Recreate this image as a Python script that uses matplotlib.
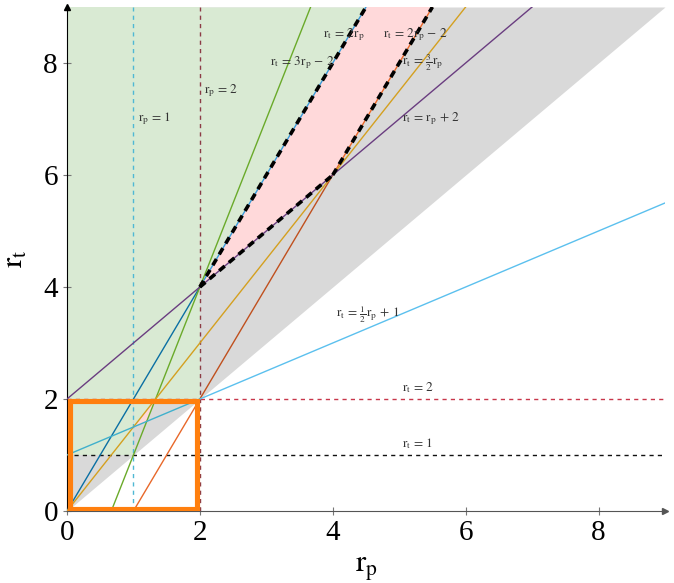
import matplotlib
matplotlib.use("Agg")
import matplotlib.pyplot as plt
import numpy as np

plt.rcParams['font.family'] = ['Liberation Serif', 'DejaVu Serif']
plt.rcParams['mathtext.fontset'] = 'stix'

# axis extent / ticks
x_max = 9
y_max = 9
x_ticks = [0, 2, 4, 6, 8]
y_ticks = [0, 2, 4, 6, 8]

# straight lines r_t = m * r_p + b, drawn between r_p = x0 and x1
seg_slopes     = [2,   2,    3,    2,    2,    2,    1.5,  1,    0.5,  0.5]
seg_intercepts = [0,   0,   -2,   -2,   -2,   -2,    0,    2,    1,    1]
seg_x0         = [0,   2,   2/3,  1,    2,    4,    0,    0,    0,    2]
seg_x1         = [2,   4.5, 11/3, 2,    4,    5.5,  6,    7,    2,    9]
seg_colors     = ['#0a6fa3', '#3a9ad9', '#6aaa2a', '#e8682a', '#c0501e', '#e8682a',
                  '#d4a020', '#6a3d80', '#40b0cc', '#5bc0ee']

# vertical / horizontal reference lines
vlines_x = [1, 2]
vlines_colors = ['#4fb8d4', '#8c3b45']
hlines_y = [2, 1]
hlines_colors = ['#c8364a', '#111111']

# boundary (black dashed) segments: (slope, intercept, x0, x1)
bnd_slopes = [2, 1, 2]
bnd_intercepts = [0, 2, -2]
bnd_x0 = [2, 2, 4]
bnd_x1 = [4.5, 4, 5.5]

# text labels
label_texts = [r'$\mathrm{r_p}\,=\,1$', r'$\mathrm{r_p}\,=\,2$',
               r'$\mathrm{r_t}\,=\,3\mathrm{r_p}\,-\,2$',
               r'$\mathrm{r_t}\,=\,2\mathrm{r_p}$', r'$\mathrm{r_t}\,=\,2\mathrm{r_p}\,-\,2$',
               r'$\mathrm{r_t}\,=\,\frac{3}{2}\mathrm{r_p}$', r'$\mathrm{r_t}\,=\,\mathrm{r_p}\,+\,2$',
               r'$\mathrm{r_t}\,=\,\frac{1}{2}\mathrm{r_p}\,+\,1$',
               r'$\mathrm{r_t}\,=\,2$', r'$\mathrm{r_t}\,=\,1$']
label_x = [1.07, 2.06, 3.05, 3.85, 4.75, 5.04, 5.04, 4.05, 5.04, 5.04]
label_y = [7.0, 7.5, 8.0, 8.5, 8.5, 8.0, 7.0, 3.5, 2.2, 1.2]

fig = plt.figure(figsize=(6.74, 5.83), dpi=100)
ax = fig.add_axes([0.0994, 0.1235, 0.8872, 0.8645])
ax.set_xlim(0, x_max)
ax.set_ylim(0, y_max)

gray = '#d9d9d9'
green = '#d9ead3'
pink = '#ffd9da'

# gray: r_t >= r_p
xs = np.array([0, x_max])
ax.fill_between(xs, xs, y_max, color=gray, lw=0, zorder=0)
# green regions
ax.fill_between([0, 2], 2, y_max, color=green, lw=0, zorder=1)
ax.fill_between([2, 4.5], [4, 9], y_max, color=green, lw=0, zorder=1)
ax.fill_between([0, 1], 1, 2, color=green, lw=0, zorder=1)
ax.fill_between([1, 4/3], [1.5, 2], 2, color=green, lw=0, zorder=1)
# pink regions
ax.fill([2, 4.5, 5.5, 4], [4, 9, 9, 6], color=pink, lw=0, zorder=1)
ax.fill([1, 4/3, 1.2], [1.5, 2, 1.6], color=pink, lw=0, zorder=1)

# reference lines
for xv, c in zip(vlines_x, vlines_colors):
    ax.plot([xv, xv], [0, y_max], ls=(0, (3, 3)), color=c, lw=1.0, zorder=2)
ax.plot([0, x_max], [hlines_y[0]] * 2, ls=(0, (3, 3)), color=hlines_colors[0], lw=1.0, zorder=2)
ax.plot([0.1, x_max], [hlines_y[1]] * 2, ls=(0, (3, 3)), color=hlines_colors[1], lw=1.0, zorder=2)

for m, b, x0, x1, c in zip(seg_slopes, seg_intercepts, seg_x0, seg_x1, seg_colors):
    xx = np.array([x0, x1])
    ax.plot(xx, m * xx + b, color=c, lw=1.0, zorder=3)

for m, b, x0, x1 in zip(bnd_slopes, bnd_intercepts, bnd_x0, bnd_x1):
    xx = np.array([x0, x1])
    ax.plot(xx, m * xx + b, color='black', lw=2.6, ls=(0, (2, 1.5)), zorder=4)

# orange box
ax.plot([0.04, 1.96, 1.96, 0.04, 0.04], [0.04, 0.04, 1.96, 1.96, 0.04],
        color='#ff7f0e', lw=3.7, zorder=5, solid_joinstyle='miter')

for t, x, y in zip(label_texts, label_x, label_y):
    ax.text(x, y, t, fontsize=9.5, color='#333333', ha='left', va='center', zorder=6)

# spines
for s in ['top', 'right']:
    ax.spines[s].set_visible(False)
ax.spines['left'].set_color('black')
ax.spines['bottom'].set_color('#555555')
ax.plot(1, 0, '>', color='#555555', ms=4, transform=ax.get_yaxis_transform(), clip_on=False)
ax.plot(0, 1, '^', color='black', ms=4, transform=ax.get_xaxis_transform(), clip_on=False)

ax.set_xticks(x_ticks)
ax.set_yticks(y_ticks)
ax.tick_params(direction='inout', length=6, width=0.8, color='#777777', labelsize=21)
ax.set_xlabel(r'$\mathrm{r_p}$', fontsize=22, labelpad=6)
ax.set_ylabel(r'$\mathrm{r_t}$', fontsize=22, labelpad=10)

fig.savefig('out.png', dpi=100)
